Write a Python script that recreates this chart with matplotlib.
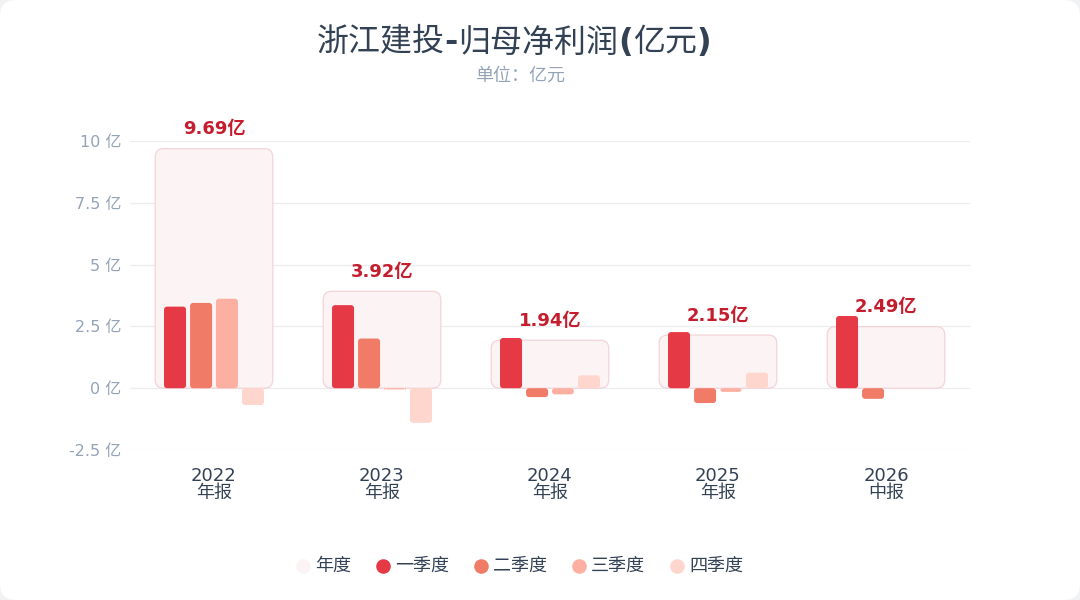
import matplotlib
matplotlib.use("Agg")
import matplotlib.pyplot as plt
from matplotlib.patches import FancyBboxPatch
from matplotlib.lines import Line2D
import numpy as np

plt.rcParams['font.family'] = ['DejaVu Sans', 'Noto Sans CJK SC']

years = ["2022", "2023", "2024", "2025", "2026"]
periods = ["年报", "年报", "年报", "年报", "中报"]
annual = [9.69, 3.92, 1.94, 2.15, 2.49]
q1 = [3.30, 3.36, 2.03, 2.27, 2.92]
q2 = [3.45, 2.01, -0.36, -0.60, -0.43]
q3 = [3.62, -0.05, -0.25, -0.15, None]
q4 = [-0.68, -1.40, 0.52, 0.63, None]
yticks = [-2.5, 0, 2.5, 5, 7.5, 10]
ytick_labels = ["-2.5 亿", "0 亿", "2.5 亿", "5 亿", "7.5 亿", "10 亿"]
legend_names = ["年度", "一季度", "二季度", "三季度", "四季度"]
title_parts = [("浙江建投", "normal"), ("-", "bold"), ("归母净利润", "normal"),
               ("(", "bold"), ("亿元", "normal"), (")", "bold")]

c_annual = "#fcf4f4"
c_annual_edge = "#f3d4d8"
colors = ["#e63946", "#f07b67", "#fdafa2", "#fed6cd"]

W, H = 1080, 600
fig = plt.figure(figsize=(10.8, 6.0), dpi=100)
fig.patch.set_facecolor("#f1f2f4")
card = FancyBboxPatch((0, 0), 1, 1, boxstyle="round,pad=0,rounding_size=0.015",
                      transform=fig.transFigure, facecolor="white", edgecolor="none",
                      mutation_aspect=1.8, zorder=-10)
fig.patches.append(card)

ax = fig.add_axes([130/W, 1-450/H, 840/W, 309/H])
ax.set_facecolor("none")
ax.set_zorder(1)
ax.set_xlim(-0.5, 4.5)
ax.set_ylim(-2.5, 10)

for t in yticks:
    ax.axhline(t, color="#ededf0", lw=0.9, zorder=0)

x = np.arange(len(years))
box_w = 0.70
bar_w = 0.131
offsets = [-0.232, -0.077, 0.077, 0.232]
series = [q1, q2, q3, q4]
asp = 12.5/309*840/5

for i in range(len(years)):
    a = annual[i]
    box = FancyBboxPatch((x[i]-box_w/2, 0), box_w, a,
                         boxstyle="round,pad=0,rounding_size=0.05",
                         mutation_aspect=asp,
                         facecolor=c_annual, edgecolor=c_annual_edge, lw=0.9, zorder=1)
    ax.add_patch(box)
    ax.text(x[i], a + 0.42, f"{a:.2f}亿", ha="center", va="bottom", color="#c41d2e",
            fontsize=13, fontweight="bold", zorder=5, clip_on=False)
    for k, s in enumerate(series):
        v = s[i]
        if v is None:
            continue
        bx = x[i] + offsets[k] - bar_w/2
        y0 = min(0, v)
        h = abs(v)
        p = FancyBboxPatch((bx, y0), bar_w, h,
                           boxstyle="round,pad=0,rounding_size=0.018",
                           mutation_aspect=asp,
                           facecolor=colors[k], edgecolor="none", zorder=3)
        ax.add_patch(p)

ax.set_yticks(yticks)
ax.set_yticklabels(ytick_labels, color="#94a3b8", fontsize=11.5)
ax.set_xticks(x)
ax.set_xticklabels([f"{y}\n{p}" for y, p in zip(years, periods)], color="#334155",
                   fontsize=13, linespacing=0.95)
ax.tick_params(axis="both", length=0)
ax.tick_params(axis="x", pad=12)
ax.tick_params(axis="y", pad=6)
for sp in ax.spines.values():
    sp.set_visible(False)

# title built from pieces (bold latin signs, regular CJK)
renderer = fig.canvas.get_renderer()
pieces = []
for txt, wt in title_parts:
    t = fig.text(0, 1-43/H, txt, ha="left", va="center", fontsize=23,
                 fontweight=wt, color="#334155")
    pieces.append(t)
widths = [p.get_window_extent(renderer).width for p in pieces]
total = sum(widths)
cur = 514 - total/2
for p, w in zip(pieces, widths):
    p.set_x(cur/W)
    cur += w

fig.text(520/W, 1-76/H, "单位：亿元", ha="center", va="center",
         fontsize=13, color="#94a3b8")

# legend
leg_x = [303, 383, 481, 579, 677]
for xc, name, c in zip(leg_x, legend_names, [c_annual] + colors):
    fig.add_artist(Line2D([xc/W], [1-566/H], marker="o", ls="none", markersize=10.5,
                          markerfacecolor=c, markeredgecolor="none",
                          transform=fig.transFigure))
    fig.text((xc+12)/W, 1-566/H, name, ha="left", va="center", fontsize=13,
             color="#334155")

fig.savefig("out.png", dpi=100, facecolor=fig.get_facecolor())
